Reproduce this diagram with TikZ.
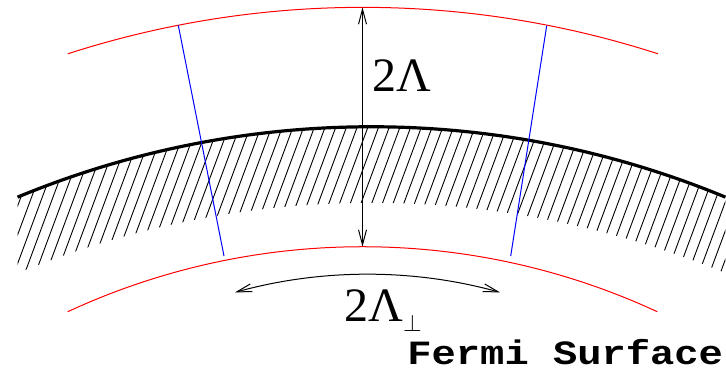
\documentclass[tikz,border=0pt]{standalone}
\usepackage{fontspec}
\setmainfont{Liberation Serif}
\setmonofont{Liberation Mono}
\usetikzlibrary{arrows.meta,calc}
\tikzset{
  corte/.style  = {red, line width=0.5pt},
  fermi/.style  = {black, line width=1.6pt},
  radial/.style = {blue, line width=0.5pt},
  raya/.style   = {black, line width=0.45pt},
  flecha/.style = {{Straight Barb[length=7.5pt,width=4pt]}-{Straight Barb[length=7.5pt,width=4pt]},
                   line width=0.5pt},
  lbl/.style    = {font=\fontsize{24}{28}\selectfont, inner sep=0pt},
  nota/.style   = {font=\ttfamily\bfseries\fontsize{17}{19}\selectfont, inner sep=0pt},
}
\begin{document}
\begin{tikzpicture}[x=0.5pt, y=0.5pt]
  \useasboundingbox (0,0) rectangle (726,381);
  % centres of the arcs
  \coordinate (cf) at (371.5,-670.7);
  \coordinate (cu) at (362.85,-586.3);
  \coordinate (cl) at (362.5,-566.7);
  \coordinate (cp) at (367.5,-390);
  % hatching below the Fermi surface
  \begin{scope}
    \clip ($(cf)+(112.5:925)$) arc[start angle=112.5, end angle=67.5, radius=925]
      -- ++(0,-76) arc[start angle=67.5, end angle=112.5, radius=925] -- cycle;
    \foreach \x in {-100,-89.3,...,730}
      \draw[raya] (\x,60) -- ++(78,210);
  \end{scope}
  \draw[fermi] ($(cf)+(112.5:925)$) arc[start angle=112.5, end angle=67.5, radius=925];
  % cut-off shells
  \draw[corte] ($(cu)+(107.9:960)$) arc[start angle=107.9, end angle=72.1, radius=960];
  \draw[corte] ($(cl)+(114.87:701)$) arc[start angle=114.87, end angle=65.13, radius=701];
  % radial borders
  \coordinate (lt) at (178.3,355.7);
  \coordinate (lb) at (224,125);
  \coordinate (rt) at (546.7,355.3);
  \coordinate (rb) at (510.7,125);
  \draw[radial] (lt) -- (lb);
  \draw[radial] (rt) -- (rb);
  % widths
  \coordinate (mt) at (362.5,373.7);
  \coordinate (mb) at (362.5,134.3);
  \draw[flecha] (mt) -- (mb);
  \draw[flecha] ($(cp)+(105.47:496.7)$) arc[start angle=105.47, end angle=74.53, radius=496.7];
  \node[lbl, anchor=base west] (lam) at (372,290) {2Λ};
  \node[lbl, anchor=base west] (lamp) at (344,60)
    {2Λ\raisebox{-5.3pt}{\fontsize{13}{15}\selectfont$\perp$}};
  \node[nota, anchor=base west] (fs) at (407,16.7) {\scalebox{1.19}[1]{Fermi Surface}};
\end{tikzpicture}
\end{document}
